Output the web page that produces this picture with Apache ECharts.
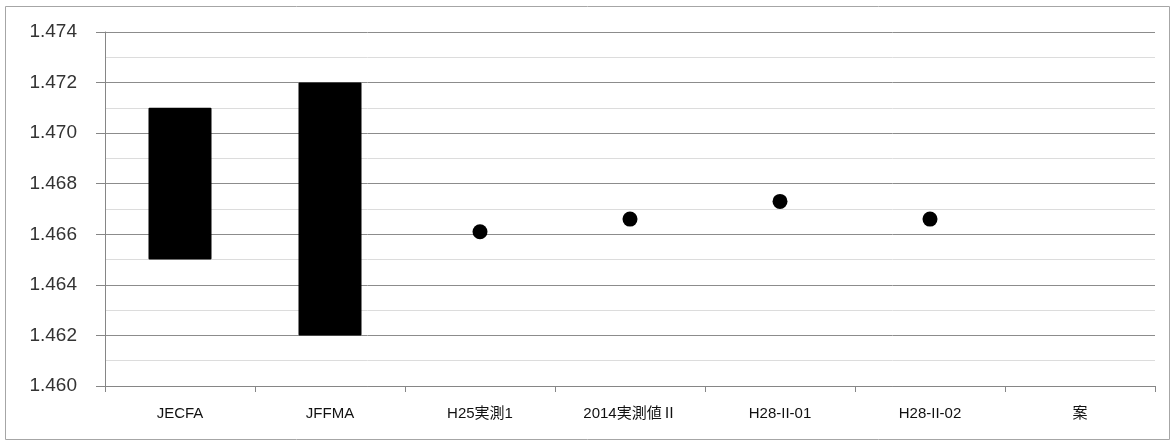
<!DOCTYPE html>
<html><head><meta charset="utf-8">
<script src="https://cdn.jsdelivr.net/npm/echarts@6/dist/echarts.min.js"></script>
<style>html,body{margin:0;padding:0;background:#fff}#c{width:1176px;height:445px}</style>
</head><body><div id="c"></div>
<script>
const categories = ['JECFA', 'JFFMA', 'H25実測1', '2014実測値Ⅱ', 'H28-II-01', 'H28-II-02', '案'];
const rangeLow  = [1.465, 1.462, '-', '-', '-', '-', '-'];
const rangeHigh = [1.471, 1.472, '-', '-', '-', '-', '-'];
const pointValues = ['-', '-', 1.4661, 1.4666, 1.4673, 1.4666, '-'];
const yTicks = { min: 1.460, max: 1.474, interval: 0.002 };

const rangeSpan = rangeLow.map((v, i) => v === '-' ? '-' : +(rangeHigh[i] - v).toFixed(6));
const font = "'Liberation Sans', 'Noto Sans CJK JP', sans-serif";

const chart = echarts.init(document.getElementById('c'));
chart.setOption({
  animation: false,
  backgroundColor: '#fff',
  graphic: [{ type: 'rect', shape: { x: 5.5, y: 6.5, width: 1164, height: 433 }, style: { fill: 'none', stroke: '#a6a6a6', lineWidth: 1 }, silent: true }],
  grid: { left: 105, right: 21, top: 32, bottom: 59 },
  xAxis: {
    type: 'category', data: categories, boundaryGap: true,
    axisLine: { lineStyle: { color: '#868686', width: 1 } },
    axisTick: { show: true, length: 6, lineStyle: { color: '#868686' } },
    axisLabel: { color: '#111', fontSize: 15, fontFamily: font, margin: 20 },
    splitLine: { show: false }
  },
  yAxis: {
    type: 'value', min: yTicks.min, max: yTicks.max, interval: yTicks.interval,
    axisLine: { show: true, lineStyle: { color: '#868686' } },
    axisTick: { show: true, length: 9, lineStyle: { color: '#868686' } },
    axisLabel: { color: '#333', fontSize: 19, fontFamily: font, margin: 28, formatter: v => v.toFixed(3) },
    splitLine: { show: true, lineStyle: { color: '#8c8c8c', width: 1 } },
    minorTick: { show: false, splitNumber: 2 },
    minorSplitLine: { show: true, lineStyle: { color: '#dcdcdc', width: 1 } }
  },
  series: [
    { type: 'bar', stack: 'r', data: rangeLow, barWidth: 63, itemStyle: { color: 'transparent' }, silent: true },
    { type: 'bar', stack: 'r', data: rangeSpan, barWidth: 63, itemStyle: { color: '#000', borderRadius: 1 } },
    { type: 'scatter', data: pointValues, symbol: 'circle', symbolSize: 15, itemStyle: { color: '#000', opacity: 1 } }
  ]
});
</script></body></html>
